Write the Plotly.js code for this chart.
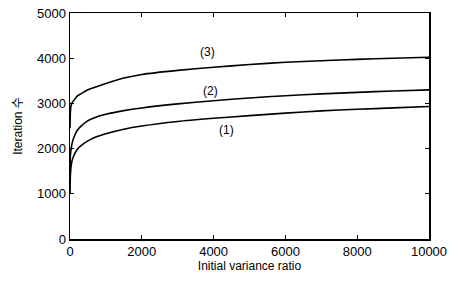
<!DOCTYPE html>
<html>
<head>
<meta charset="utf-8">
<script src="https://cdn.plot.ly/plotly-3.0.1.min.js"></script>
<style>html,body{margin:0;padding:0;background:#fff;}#chart{width:449px;height:283px;}</style>
</head>
<body>
<div id="chart"></div>
<script>
const ratio = [1, 10, 30, 60, 100, 200, 300, 500, 700, 1000, 1500, 2000, 3000, 4000, 5000, 6000, 7000, 8000, 9000, 10000];
const curve1 = [1000, 1400, 1600, 1740, 1830, 1980, 2060, 2170, 2250, 2330, 2430, 2500, 2600, 2670, 2730, 2785, 2835, 2870, 2900, 2930];
const curve2 = [1400, 1850, 1980, 2120, 2230, 2400, 2490, 2620, 2690, 2760, 2840, 2900, 2990, 3060, 3120, 3170, 3210, 3245, 3275, 3300];
const curve3 = [2450, 2800, 2950, 3020, 3060, 3160, 3210, 3300, 3360, 3440, 3560, 3640, 3730, 3800, 3860, 3910, 3945, 3975, 4000, 4020];
const labels = ['(1)', '(2)', '(3)'];
const labelX = [4350, 3900, 3820];
const labelY = [2410, 3280, 4140];
const xTicks = [0, 2000, 4000, 6000, 8000, 10000];
const yTicks = [0, 1000, 2000, 3000, 4000, 5000];

const line = {color: '#000', width: 1.6, shape: 'spline', smoothing: 0.6};
const traces = [curve1, curve2, curve3].map(y => ({
  x: ratio, y: y, mode: 'lines', type: 'scatter', line: line, hoverinfo: 'skip'
}));

const ann = labels.map((t, i) => ({
  x: labelX[i], y: labelY[i], text: t, showarrow: false, xref: 'x', yref: 'y',
  font: {family: 'Arial, Liberation Sans, sans-serif', size: 12, color: '#000'}
}));

const axisCommon = {
  showgrid: false, zeroline: false, showline: true, linecolor: '#000', linewidth: 1.5,
  mirror: 'ticks', ticks: 'inside', ticklen: 4, tickcolor: '#000', tickwidth: 1,
  tickfont: {family: 'Arial, Liberation Sans, sans-serif', size: 13, color: '#000'}
};

const layout = {
  width: 449, height: 283,
  margin: {l: 70, r: 20, t: 13, b: 44},
  paper_bgcolor: '#fff', plot_bgcolor: '#fff',
  showlegend: false,
  xaxis: Object.assign({}, axisCommon, {
    range: [0, 10000], tickvals: xTicks, ticktext: xTicks.map(String),
    title: {text: 'Initial variance ratio', standoff: 3,
      font: {family: 'Arial, Liberation Sans, sans-serif', size: 12, color: '#000'}}
  }),
  yaxis: Object.assign({}, axisCommon, {
    range: [0, 5000], tickvals: yTicks, ticktext: yTicks.map(String),
    title: {text: 'Iteration 수', standoff: 12,
      font: {family: 'Arial, Liberation Sans, Noto Sans CJK KR, sans-serif', size: 12, color: '#000'}}
  }),
  annotations: ann
};

Plotly.newPlot('chart', traces, layout, {displayModeBar: false, staticPlot: true});
</script>
</body>
</html>
